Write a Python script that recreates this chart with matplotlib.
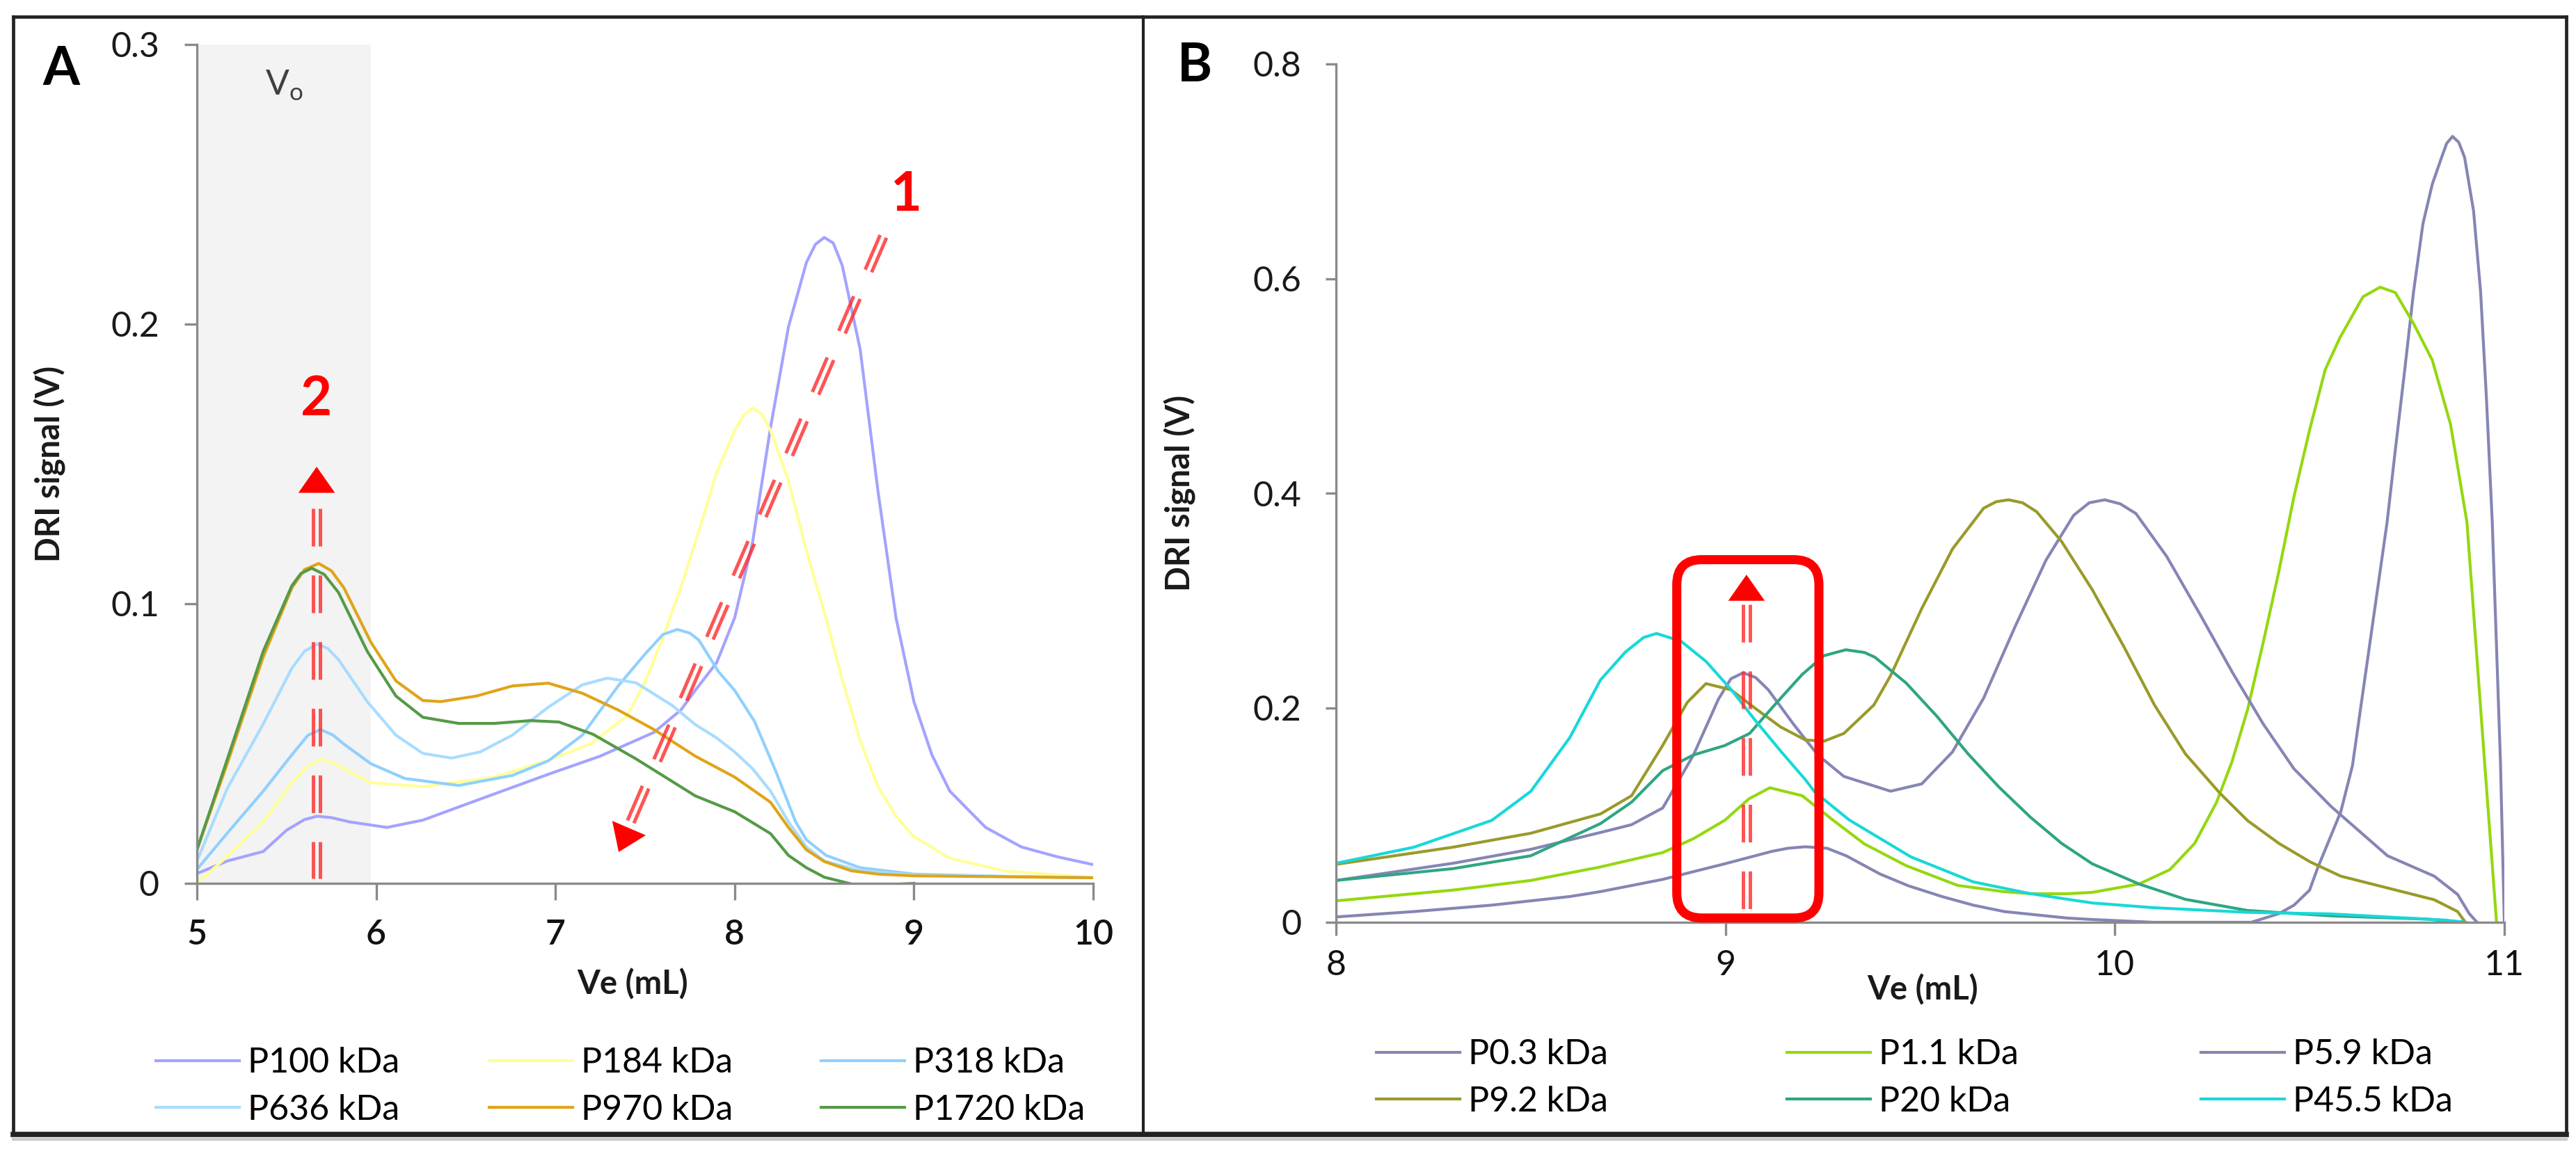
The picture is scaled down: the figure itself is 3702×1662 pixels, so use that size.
import numpy as np
import matplotlib
matplotlib.use("Agg")
import matplotlib.pyplot as plt
from matplotlib.lines import Line2D
from matplotlib.patches import FancyBboxPatch
from matplotlib.transforms import IdentityTransform

# ---------------- data: panel A ----------------
A_LABELS = ["P100 kDa", "P184 kDa", "P318 kDa", "P636 kDa", "P970 kDa", "P1720 kDa"]
A_COLORS = ["#A3A3FF", "#FFFF99", "#8FD0FF", "#A8DCFF", "#E0A418", "#559A48"]

P100_X = [5.0, 5.17, 5.37, 5.5, 5.6, 5.67, 5.75, 5.85, 6.06, 6.26, 6.66, 6.96, 7.25, 7.55, 7.7, 7.78,
          7.9, 8.0, 8.1, 8.2, 8.3, 8.4, 8.45, 8.5, 8.55, 8.6, 8.7, 8.8, 8.9, 9.0, 9.1, 9.2, 9.4, 9.6,
          9.8, 10.0]
P100_Y = [0.0035, 0.008, 0.0114, 0.019, 0.0228, 0.024, 0.0235, 0.022, 0.020, 0.0226, 0.032, 0.039,
          0.0455, 0.054, 0.062, 0.069, 0.079, 0.095, 0.122, 0.163, 0.199, 0.222, 0.2285, 0.231, 0.229,
          0.221, 0.191, 0.140, 0.095, 0.065, 0.046, 0.033, 0.020, 0.013, 0.0095, 0.0067]

P184_X = [5.0, 5.17, 5.37, 5.53, 5.62, 5.69, 5.77, 5.85, 5.97, 6.26, 6.66, 6.96, 7.2, 7.4, 7.5, 7.6,
          7.7, 7.8, 7.9, 8.0, 8.05, 8.1, 8.15, 8.2, 8.3, 8.4, 8.5, 8.6, 8.7, 8.8, 8.9, 9.0, 9.2, 9.5,
          10.0]
P184_Y = [0.0, 0.0097, 0.022, 0.036, 0.042, 0.0443, 0.0428, 0.040, 0.036, 0.0346, 0.038, 0.044, 0.050,
          0.060, 0.072, 0.088, 0.106, 0.126, 0.147, 0.162, 0.1675, 0.170, 0.168, 0.162, 0.144, 0.119,
          0.097, 0.073, 0.051, 0.0345, 0.024, 0.0167, 0.009, 0.0045, 0.002]

P318_X = [5.0, 5.17, 5.37, 5.53, 5.62, 5.69, 5.76, 5.82, 5.97, 6.16, 6.46, 6.76, 6.96, 7.15, 7.35, 7.5,
          7.6, 7.68, 7.75, 7.8, 7.91, 8.0, 8.11, 8.23, 8.34, 8.4, 8.51, 8.7, 9.0, 9.5, 10.0]
P318_Y = [0.005, 0.018, 0.033, 0.046, 0.053, 0.055, 0.053, 0.0498, 0.0428, 0.0375, 0.035, 0.0386,
          0.0438, 0.053, 0.0706, 0.082, 0.089, 0.0908, 0.0895, 0.087, 0.0757, 0.069, 0.058, 0.040,
          0.022, 0.0156, 0.010, 0.0056, 0.0033, 0.0025, 0.002]

P636_X = [5.0, 5.17, 5.37, 5.53, 5.6, 5.67, 5.73, 5.79, 5.95, 6.11, 6.26, 6.42, 6.58, 6.76, 6.96, 7.15,
          7.29, 7.45, 7.65, 7.78, 7.9, 8.0, 8.1, 8.2, 8.3, 8.4, 8.5, 8.7, 9.0, 10.0]
P636_Y = [0.008, 0.034, 0.057, 0.077, 0.083, 0.0856, 0.084, 0.080, 0.065, 0.053, 0.0465, 0.0448,
          0.047, 0.053, 0.063, 0.071, 0.0734, 0.0717, 0.0637, 0.0568, 0.052, 0.047, 0.041, 0.033,
          0.022, 0.013, 0.008, 0.0045, 0.003, 0.002]

P970_X = [5.0, 5.17, 5.37, 5.53, 5.6, 5.68, 5.75, 5.82, 5.97, 6.11, 6.26, 6.36, 6.56, 6.76, 6.96, 7.15,
          7.35, 7.55, 7.78, 8.0, 8.2, 8.3, 8.4, 8.5, 8.65, 8.8, 9.0, 10.0]
P970_Y = [0.012, 0.043, 0.081, 0.1057, 0.1122, 0.1144, 0.1118, 0.1057, 0.0863, 0.0724, 0.0654, 0.065,
          0.067, 0.0706, 0.0716, 0.068, 0.062, 0.055, 0.0455, 0.038, 0.029, 0.020, 0.012, 0.0078,
          0.0045, 0.0033, 0.0027, 0.002]

P1720_X = [5.0, 5.17, 5.37, 5.53, 5.58, 5.64, 5.71, 5.79, 5.95, 6.11, 6.26, 6.46, 6.66, 6.86, 7.02,
           7.21, 7.45, 7.78, 8.0, 8.2, 8.3, 8.4, 8.5, 8.7, 9.0]
P1720_Y = [0.012, 0.0445, 0.083, 0.1065, 0.1108, 0.1127, 0.1105, 0.104, 0.083, 0.067, 0.0594, 0.0572,
           0.0572, 0.0582, 0.0577, 0.0533, 0.0445, 0.0313, 0.0256, 0.0178, 0.010, 0.0056, 0.0022,
           -0.001, 0.0]

# ---------------- data: panel B ----------------
B_LABELS = ["P0.3 kDa", "P1.1 kDa", "P5.9 kDa", "P9.2 kDa", "P20 kDa", "P45.5 kDa"]
B_COLORS = ["#8585B5", "#94D810", "#8585B5", "#9A9A2A", "#2EA682", "#18D8D8"]

P03_X = [8.0, 8.2, 8.4, 8.6, 8.679, 8.839, 8.998, 9.118, 9.16, 9.205, 9.261, 9.31, 9.397, 9.47, 9.556,
         9.636, 9.716, 9.783, 9.876, 9.942, 10.1, 10.35, 10.421, 10.46, 10.50, 10.52, 10.58, 10.61,
         10.699, 10.72, 10.744, 10.767, 10.791, 10.815, 10.839, 10.852, 10.867, 10.883, 10.898,
         10.921, 10.939, 10.954, 10.969, 10.99, 11.0]
P03_Y = [0.005, 0.010, 0.016, 0.024, 0.0286, 0.040, 0.0545, 0.066, 0.069, 0.0704, 0.069, 0.062, 0.045,
         0.034, 0.024, 0.016, 0.010, 0.0075, 0.004, 0.0026, 0.0, 0.0, 0.008, 0.016, 0.030, 0.050,
         0.103, 0.146, 0.373, 0.44, 0.514, 0.588, 0.651, 0.688, 0.713, 0.726, 0.7325, 0.727, 0.713,
         0.663, 0.588, 0.489, 0.373, 0.15, 0.0]

P11_X = [8.0, 8.3, 8.5, 8.679, 8.839, 8.918, 8.998, 9.06, 9.114, 9.197, 9.277, 9.357, 9.464, 9.596,
         9.716, 9.783, 9.876, 9.942, 10.062, 10.141, 10.205, 10.261, 10.301, 10.341, 10.381, 10.421,
         10.46, 10.50, 10.54, 10.578, 10.637, 10.681, 10.72, 10.767, 10.815, 10.862, 10.904, 10.95,
         10.98]
P11_Y = [0.020, 0.030, 0.039, 0.0516, 0.065, 0.078, 0.095, 0.115, 0.1254, 0.118, 0.095, 0.073, 0.0528,
         0.0344, 0.0285, 0.0267, 0.0266, 0.0279, 0.0357, 0.049, 0.0736, 0.1118, 0.150, 0.1986, 0.261,
         0.327, 0.397, 0.459, 0.515, 0.545, 0.583, 0.592, 0.587, 0.558, 0.524, 0.464, 0.373, 0.146,
         0.0]

P59_X = [8.0, 8.3, 8.5, 8.679, 8.759, 8.839, 8.918, 8.982, 9.014, 9.046, 9.078, 9.110, 9.174, 9.237,
         9.304, 9.424, 9.504, 9.583, 9.663, 9.743, 9.823, 9.894, 9.934, 9.974, 10.014, 10.054, 10.133,
         10.221, 10.301, 10.381, 10.460, 10.555, 10.70, 10.82, 10.88, 10.91, 10.93]
P59_Y = [0.039, 0.055, 0.068, 0.0837, 0.091, 0.1066, 0.156, 0.208, 0.227, 0.2326, 0.228, 0.2167, 0.185,
         0.156, 0.136, 0.1222, 0.129, 0.1588, 0.209, 0.275, 0.3375, 0.3793, 0.391, 0.3938, 0.390,
         0.381, 0.341, 0.2855, 0.2334, 0.1848, 0.143, 0.108, 0.062, 0.043, 0.026, 0.008, 0.0]

P92_X = [8.0, 8.3, 8.5, 8.679, 8.759, 8.839, 8.902, 8.950, 9.014, 9.078, 9.142, 9.205, 9.253, 9.304,
         9.381, 9.424, 9.504, 9.583, 9.663, 9.695, 9.727, 9.763, 9.799, 9.863, 9.942, 10.022, 10.102,
         10.181, 10.269, 10.341, 10.421, 10.501, 10.58, 10.70, 10.82, 10.88, 10.90]
P92_Y = [0.054, 0.07, 0.083, 0.101, 0.118, 0.165, 0.205, 0.2225, 0.2167, 0.199, 0.182, 0.170, 0.1688,
         0.176, 0.2025, 0.2299, 0.2924, 0.348, 0.386, 0.392, 0.3938, 0.391, 0.3827, 0.355, 0.310,
         0.2576, 0.2023, 0.157, 0.1206, 0.0947, 0.0736, 0.0564, 0.043, 0.032, 0.021, 0.010, 0.0]

P20_X = [8.0, 8.3, 8.5, 8.679, 8.759, 8.839, 8.918, 8.998, 9.062, 9.126, 9.197, 9.253, 9.309, 9.357,
         9.384, 9.424, 9.464, 9.543, 9.623, 9.703, 9.783, 9.863, 9.942, 10.062, 10.181, 10.341,
         10.555, 10.8, 10.9]
P20_Y = [0.039, 0.05, 0.062, 0.092, 0.112, 0.1414, 0.156, 0.1647, 0.176, 0.2025, 0.231, 0.2485, 0.254,
         0.2515, 0.247, 0.235, 0.223, 0.192, 0.157, 0.1258, 0.098, 0.0736, 0.0545, 0.0357, 0.0214,
         0.011, 0.006, 0.003, 0.0]

P455_X = [8.0, 8.2, 8.4, 8.5, 8.6, 8.679, 8.743, 8.79, 8.823, 8.886, 8.950, 9.014, 9.077, 9.142,
          9.205, 9.229, 9.317, 9.476, 9.636, 9.783, 9.942, 10.10, 10.34, 10.555, 10.85, 10.9]
P455_Y = [0.055, 0.07, 0.095, 0.122, 0.172, 0.2258, 0.2519, 0.2655, 0.2692, 0.262, 0.2432, 0.2172,
          0.188, 0.1595, 0.133, 0.1216, 0.0956, 0.061, 0.0377, 0.0267, 0.018, 0.0136, 0.0093, 0.0078,
          0.002, 0.0]

A_SERIES = [(P100_X, P100_Y), (P184_X, P184_Y), (P318_X, P318_Y),
            (P636_X, P636_Y), (P970_X, P970_Y), (P1720_X, P1720_Y)]
B_SERIES = [(P03_X, P03_Y), (P11_X, P11_Y), (P59_X, P59_Y),
            (P92_X, P92_Y), (P20_X, P20_Y), (P455_X, P455_Y)]

A_XTICKS = [5, 6, 7, 8, 9, 10]
A_YTICKS = [0, 0.1, 0.2, 0.3]
A_YTICKLABELS = ["0", "0.1", "0.2", "0.3"]
B_XTICKS = [8, 9, 10, 11]
B_YTICKS = [0, 0.2, 0.4, 0.6, 0.8]
B_YTICKLABELS = ["0", "0.2", "0.4", "0.6", "0.8"]

# ---------------- figure ----------------
W, H, DPI = 3702, 1662, 100
plt.rcParams["font.family"] = ["Lato", "DejaVu Sans"]
plt.rcParams["mathtext.fontset"] = "custom"
plt.rcParams["mathtext.rm"] = "Lato"
plt.rcParams["lines.scale_dashes"] = False

fig = plt.figure(figsize=(W / DPI, H / DPI), dpi=DPI)
fig.patch.set_facecolor("white")


def fx(px):
    return px / W


def fy(py):
    return 1 - py / H


axA = fig.add_axes([fx(283), fy(1270), fx(1571) - fx(283), fy(64) - fy(1270)])
axB = fig.add_axes([fx(1920), fy(1326), fx(3599) - fx(1920), fy(92) - fy(1326)])

AXC = "#8a8a8a"
LW = 3.0


def style(ax, xlim, ylim, xt, yt, ytl, xlen, xpad, ylen, ypad, xweight):
    ax.set_xlim(xlim)
    ax.set_ylim(ylim)
    for s in ["top", "right"]:
        ax.spines[s].set_visible(False)
    for s in ["left", "bottom"]:
        ax.spines[s].set_color(AXC)
        ax.spines[s].set_linewidth(2.4)
    ax.set_xticks(xt)
    ax.set_xticklabels([str(v) for v in xt], fontweight=xweight)
    ax.set_yticks(yt)
    ax.set_yticklabels(ytl)
    ax.tick_params(axis="y", direction="out", length=ylen, width=2.4, color=AXC, pad=ypad,
                   labelsize=36, labelcolor="#1a1a1a")
    ax.tick_params(axis="x", direction="out", length=xlen, width=2.4, color=AXC, pad=xpad,
                   labelsize=36, labelcolor="#111111")
    ax.set_facecolor("none")


style(axA, (5, 10), (0, 0.3), A_XTICKS, A_YTICKS, A_YTICKLABELS, 17, 20, 13, 26, "semibold")
style(axB, (8, 11), (0, 0.8), B_XTICKS, B_YTICKS, B_YTICKLABELS, 14, 14, 11, 25, "normal")

# void-volume shading
axA.axvspan(5, 5.97, color="#f3f3f3", zorder=0, lw=0)
axA.text(5.485, 0.2818, r"V$_\mathregular{o}$", ha="center", va="baseline", fontsize=36,
         color="#404040")

handlesA = []
for (xs, ys), c, lab in zip(A_SERIES, A_COLORS, A_LABELS):
    h, = axA.plot(xs, ys, color=c, lw=LW, label=lab, solid_joinstyle="round")
    handlesA.append(h)
handlesB = []
for (xs, ys), c, lab in zip(B_SERIES, B_COLORS, B_LABELS):
    h, = axB.plot(xs, ys, color=c, lw=LW, label=lab, solid_joinstyle="round")
    handlesB.append(h)

# ---------------- red annotations ----------------
RED = "#FF2A2A"


def dbl_dash(ax, far, near, tip, sep=10, lw=3.6, on=39, off=30):
    """Double dashed shaft from `far` to `near`, arrow head ending at `tip`."""
    P0 = ax.transData.transform(near)
    P1 = ax.transData.transform(far)
    T = ax.transData.transform(tip)
    d = (P1 - P0) / np.linalg.norm(P1 - P0)
    n = np.array([-d[1], d[0]])
    inv = ax.transData.inverted()
    for s in (-1, 1):
        q = inv.transform(np.vstack([P0 + s * n * sep / 2, P1 + s * n * sep / 2]))
        ln, = ax.plot(q[:, 0], q[:, 1], color=RED, lw=lw, alpha=0.8, clip_on=False,
                      solid_capstyle="butt", dash_capstyle="butt", zorder=6)
        ln.set_dashes([on, off])
    u = (T - P1) / np.linalg.norm(T - P1)
    base = inv.transform(T - u * 38)
    ax.annotate("", xy=tip, xytext=tuple(base), zorder=7,
                arrowprops=dict(arrowstyle="-|>,head_length=1.5,head_width=1.05",
                                mutation_scale=18, fc="red", ec="red", lw=0,
                                shrinkA=0, shrinkB=0))


dbl_dash(axA, (8.851, 0.2346), (7.42, 0.022), (7.353, 0.0112))
dbl_dash(axA, (5.668, 0.0017), (5.668, 0.134), (5.668, 0.149))
dbl_dash(axB, (9.054, 0.0117), (9.054, 0.296), (9.054, 0.324))
axA.text(8.956, 0.246, "1", color="red", fontsize=56, fontweight="bold", ha="center", va="center")
axA.text(5.668, 0.173, "2", color="red", fontsize=56, fontweight="bold", ha="center", va="center")

# rounded red box in panel B (drawn in pixel space so corners stay round)
b0 = axB.transData.transform((8.875, 0.004))
b1 = axB.transData.transform((9.240, 0.338))
box = FancyBboxPatch((b0[0], b0[1]), b1[0] - b0[0], b1[1] - b0[1],
                     boxstyle="round,pad=0,rounding_size=36", transform=IdentityTransform(),
                     fc="none", ec="red", lw=9.4, zorder=8, clip_on=False)
axB.add_artist(box)

# ---------------- text ----------------
fig.text(fx(88), fy(100), "A", fontsize=55, fontweight="bold", ha="center", va="center")
fig.text(fx(1717), fy(95), "B", fontsize=55, fontweight="bold", ha="center", va="center")
fig.text(fx(72), fy(667), "DRI signal (V)", rotation=90, fontsize=34, fontweight="bold",
         ha="center", va="center", color="#1a1a1a")
fig.text(fx(1696), fy(709), "DRI signal (V)", rotation=90, fontsize=34, fontweight="bold",
         ha="center", va="center", color="#1a1a1a")
fig.text(fx(909), fy(1415), "Ve (mL)", fontsize=34, fontweight="bold", ha="center", va="center",
         color="#1a1a1a")
fig.text(fx(2763), fy(1423), "Ve (mL)", fontsize=34, fontweight="bold", ha="center", va="center",
         color="#1a1a1a")

# ---------------- legends (one per column) ----------------
def col_legend(hs, x_px, yc_px):
    fig.legend(hs, [h.get_label() for h in hs], loc="center left",
               bbox_to_anchor=(fx(x_px), fy(yc_px)), bbox_transform=fig.transFigure,
               frameon=False, fontsize=36, handlelength=2.4, handletextpad=0.24,
               labelspacing=0.42, borderpad=0, borderaxespad=0)


col_legend([handlesA[0], handlesA[3]], 224, 1562)
col_legend([handlesA[1], handlesA[4]], 703, 1562)
col_legend([handlesA[2], handlesA[5]], 1180, 1562)
col_legend([handlesB[0], handlesB[3]], 1978, 1550)
col_legend([handlesB[1], handlesB[4]], 2568, 1550)
col_legend([handlesB[2], handlesB[5]], 3163, 1550)

# ---------------- panel frames ----------------
FR = "#222222"
def fline(xs, ys, lw, color=FR):
    fig.add_artist(Line2D([fx(v) for v in xs], [fy(v) for v in ys], transform=fig.transFigure,
                          color=color, lw=lw, solid_capstyle="projecting"))

fline([19, 3688], [24, 24], 3.4)
fline([19, 19], [24, 1631], 3.4)
fline([3688, 3688], [24, 1631], 3.4)
fline([1643, 1643], [24, 1631], 3.0)
fline([19, 3688], [1638, 1638], 3.0, "#c8c8c8")
fline([19, 3688], [1631, 1631], 5.5)

fig.savefig("out.png", dpi=DPI, facecolor="white")
